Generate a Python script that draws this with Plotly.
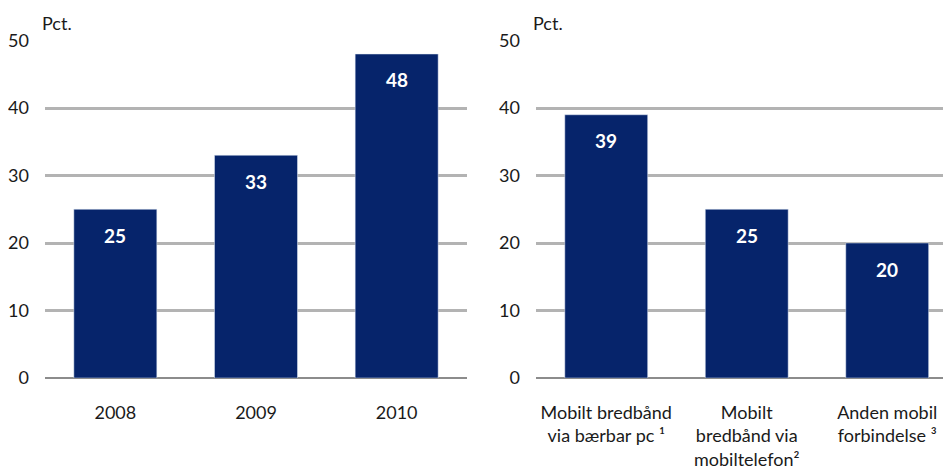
import plotly.graph_objects as go

years = ['2008', '2009', '2010']
share_years = [25, 33, 48]

types = ['Mobilt bredbånd<br>via bærbar pc ¹', 'Mobilt<br>bredbånd via<br>mobiltelefon²',
         'Anden mobil<br>forbindelse ³']
share_types = [39, 25, 20]

y_ticks = [0, 10, 20, 30, 40, 50]

BAR = '#06246b'
FONT = 'Lato'
TXT = '#1a1a1a'

# the page body keeps its 8px margin, so the figure is sized to fit the window inside it
W, H = 943, 467

fig = go.Figure()
fig.add_trace(go.Bar(x=years, y=share_years, marker_color=BAR, xaxis='x', yaxis='y',
                     hoverinfo='skip'))
fig.add_trace(go.Bar(x=types, y=share_types, marker_color=BAR, xaxis='x2', yaxis='y2',
                     hoverinfo='skip'))

annotations = []
for xa, ya, cats, vals in [('x', 'y', years, share_years), ('x2', 'y2', types, share_types)]:
    for i, v in enumerate(vals):
        annotations.append(dict(x=i, y=v, xref=xa, yref=ya, text=f'<b>{v}</b>', showarrow=False,
                                yshift=-26, font=dict(color='white', size=19, family=FONT)))
    # unit label above the axis
    annotations.append(dict(x=0, y=1, xref=f'{xa} domain', yref=f'{ya} domain', text='Pct.',
                            showarrow=False, xanchor='left', yanchor='bottom', xshift=-5, yshift=4,
                            font=dict(size=18, color=TXT, family=FONT)))

yaxis_style = dict(range=[0, 50], tickvals=y_ticks, showgrid=True, gridcolor='#b3b3b3', gridwidth=2.5,
                   zeroline=True, zerolinecolor='#8c8c8c', zerolinewidth=2, showline=False,
                   ticks='', ticklabelstandoff=15, domain=[97 / H, 434.5 / H], automargin=False,
                   tickfont=dict(size=18, color=TXT, family=FONT), fixedrange=True)
xaxis_style = dict(type='category', showline=False, ticks='', ticklabelstandoff=22, automargin=False,
                   tickfont=dict(size=18, color=TXT, family=FONT), fixedrange=True)

fig.update_layout(
    width=W, height=H, margin=dict(l=0, r=0, t=0, b=0),
    paper_bgcolor='white', plot_bgcolor='white', showlegend=False,
    bargap=0.41, font=dict(family=FONT),
    xaxis=dict(domain=[37 / W, 459 / W], range=[-0.5, 2.5], **xaxis_style),
    xaxis2=dict(domain=[528 / W, 1], range=[-0.5, 2.454], anchor='y2', **xaxis_style),
    yaxis=dict(anchor='x', **yaxis_style),
    yaxis2=dict(anchor='x2', **yaxis_style),
    annotations=annotations,
)

fig.write_html("out.html")
